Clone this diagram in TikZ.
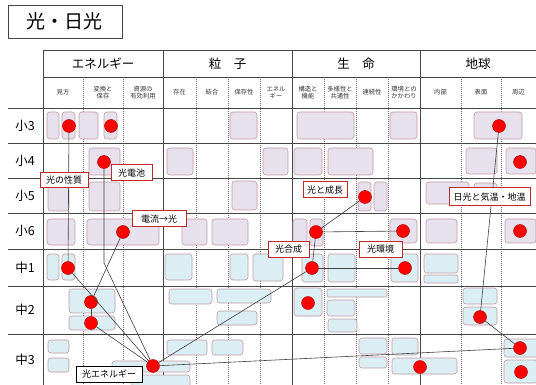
\documentclass[tikz,border=0pt]{standalone}
\usepackage{fontspec}
\newfontfamily\jp{Noto Sans CJK JP}
\definecolor{gridc}{HTML}{454545}
\definecolor{dashc}{HTML}{707070}
\definecolor{lavfill}{HTML}{E6E1ED}
\definecolor{bluefill}{HTML}{DAEEF3}
\definecolor{boxline}{HTML}{C29AA2}
\definecolor{dotred}{HTML}{FF0000}
\definecolor{dotline}{HTML}{A00000}
\definecolor{labred}{HTML}{C0282D}
\definecolor{conn}{HTML}{404040}
\tikzset{
  gridsolid/.style={draw=gridc,line width=0.7pt},
  griddash/.style={draw=dashc,line width=0.4pt,dash pattern=on 1pt off 1pt},
  ebox/.style={draw=boxline,fill=lavfill,line width=0.6pt,rounded corners=3pt},
  jbox/.style={draw=boxline,fill=bluefill,line width=0.6pt,rounded corners=3pt},
  jthin/.style={draw=boxline,fill=bluefill,line width=0.6pt,rounded corners=2pt},
  dot/.style={circle,fill=dotred,draw=dotline,line width=0.4pt,minimum size=13pt,inner sep=0pt},
  link/.style={draw=conn,line width=0.6pt},
  tag/.style={draw=labred,fill=white,line width=1pt,inner sep=0pt,font=\jp\fontsize{9}{10}\selectfont},
  rowlab/.style={font=\jp\fontsize{12.5}{13}\selectfont},
  head/.style={font=\jp\fontsize{12.5}{13}\selectfont},
  subhead/.style={font=\jp\fontsize{6.3}{7.2}\selectfont,align=center,text=black!80}
}
\begin{document}
\begin{tikzpicture}[x=1pt,y=-1pt]
\useasboundingbox (0,0) rectangle (536,385);
\fill[white] (0,0) rectangle (536,385);
% title
\node[draw=gridc,line width=0.8pt,minimum width=114pt,minimum height=33pt,inner sep=0pt,font=\jp\fontsize{19}{20}\selectfont] (title) at (65,21.5) {光・日光};
% grid
\foreach \x in {83,123,196,228,260,324,356,388,461,501} \draw[griddash] (\x,77) -- (\x,385);
\foreach \y in {108,143,178,213,249,286,334} \draw[gridsolid] (8,\y) -- (536,\y);
\draw[gridsolid] (43,50) -- (536,50);
\draw[gridsolid] (43,77) -- (536,77);
\foreach \x in {43,163,292,420} \draw[gridsolid] (\x,50) -- (\x,385);
% headers
\node[head] (hE) at (103,63.5) {エネルギー};
\node[head] (hP) at (227.5,63.5) {粒\hspace{1em}子};
\node[head] (hL) at (356,63.5) {生\hspace{1em}命};
\node[head] (hEa) at (478,63.5) {地球};
\node[subhead] (s1) at (63,92.5) {見方};
\node[subhead] (s2) at (103,92.5) {変換と\\保存};
\node[subhead] (s3) at (143,92.5) {資源の\\有効利用};
\node[subhead] (s4) at (179.5,92.5) {存在};
\node[subhead] (s5) at (212,92.5) {結合};
\node[subhead] (s6) at (244,92.5) {保存性};
\node[subhead] (s7) at (276,92.5) {エネル\\ギー};
\node[subhead] (s8) at (308,92.5) {構造と\\機能};
\node[subhead] (s9) at (340,92.5) {多様性と\\共通性};
\node[subhead] (s10) at (372,92.5) {連続性};
\node[subhead] (s11) at (404,92.5) {環境との\\かかわり};
\node[subhead] (s12) at (440.5,92.5) {内部};
\node[subhead] (s13) at (481,92.5) {表面};
\node[subhead] (s14) at (518.5,92.5) {周辺};
% row labels
\node[rowlab] (r1) at (25,125.5) {小3};
\node[rowlab] (r2) at (25,160.5) {小4};
\node[rowlab] (r3) at (25,195.5) {小5};
\node[rowlab] (r4) at (25,231) {小6};
\node[rowlab] (r5) at (25,267.5) {中1};
\node[rowlab] (r6) at (25,310) {中2};
\node[rowlab] (r7) at (25,359.5) {中3};
% boxes 小3
\draw[ebox] (47,112) rectangle (59,139);
\draw[ebox] (62,112) rectangle (75,139);
\draw[ebox] (79,112) rectangle (98,139);
\draw[ebox] (104,112) rectangle (117,139);
\draw[ebox] (230,112) rectangle (257,139);
\draw[ebox] (297,112) rectangle (354,139);
\draw[ebox] (390,112) rectangle (417,139);
\draw[ebox] (474,112) rectangle (522,139);
% 小4
\draw[ebox] (89,148) rectangle (120,175);
\draw[ebox] (167,148) rectangle (193,175);
\draw[ebox] (263,148) rectangle (288,175);
\draw[ebox] (294,148) rectangle (322,175);
\draw[ebox] (328,148) rectangle (373,175);
\draw[ebox] (466,148) rectangle (497,174);
\draw[ebox] (506,148) rectangle (536,174);
% 小5
\draw[ebox] (48,181) rectangle (69,211);
\draw[ebox] (89,182) rectangle (120,211);
\draw[ebox] (232,181) rectangle (257,210);
\draw[ebox] (358,182) rectangle (371,211);
\draw[ebox] (374,182) rectangle (387,211);
\draw[ebox] (426,182) rectangle (469,204);
\draw[ebox] (474,183) rectangle (497,204);
% 小6
\draw[ebox] (47,219) rectangle (75,245);
\draw[ebox] (87,219) rectangle (159,245);
\draw[ebox] (182,219) rectangle (207,245);
\draw[ebox] (212,219) rectangle (248,245);
\draw[ebox] (293,219) rectangle (307,246);
\draw[ebox] (310,219) rectangle (323,246);
\draw[ebox] (390,219) rectangle (417,243);
\draw[ebox] (426,219) rectangle (457,243);
\draw[ebox] (505,219) rectangle (536,243);
% 中1
\draw[jbox] (47,254) rectangle (59,280);
\draw[jbox] (62,254) rectangle (75,280);
\draw[jbox] (165,254) rectangle (192,280);
\draw[jbox] (230,254) rectangle (248,280);
\draw[jbox] (253,254) rectangle (283,281);
\draw[jbox] (302,254) rectangle (323,282);
\draw[jbox] (328,254) rectangle (355,282);
\draw[jbox] (391,254) rectangle (418,282);
\draw[jbox] (424,254) rectangle (458,273);
\draw[jthin] (424,275) rectangle (458,283);
% 中2
\draw[jbox] (69,289) rectangle (115,313);
\draw[jbox] (69,316) rectangle (115,330);
\draw[jbox] (169,289) rectangle (212,304);
\draw[jbox] (217,289) rectangle (271,303);
\draw[jbox] (217,311) rectangle (257,325);
\draw[jbox] (294,288) rectangle (322,316);
\draw[jthin] (327,289) rectangle (387,297);
\draw[jbox] (327,300) rectangle (355,316);
\draw[jbox] (328,319) rectangle (357,332);
\draw[jbox] (463,288) rectangle (497,304);
\draw[jbox] (463,307) rectangle (497,325);
% 中3
\draw[jbox] (48,340) rectangle (69,353);
\draw[jbox] (48,358) rectangle (69,372);
\draw[jbox] (112,361) rectangle (190,372);
\draw[jbox] (132,375) rectangle (190,388);
\draw[jbox] (167,340) rectangle (207,355);
\draw[jbox] (212,340) rectangle (243,355);
\draw[jbox] (359,338) rectangle (387,354);
\draw[jbox] (359,357) rectangle (387,368);
\draw[jbox] (392,338) rectangle (418,355);
\draw[jbox] (392,358) rectangle (457,374);
\draw[jbox] (504,339) rectangle (538,357);
\draw[jbox] (504,360) rectangle (538,383);
% dots
\node[dot] (a1) at (69,126) {};
\node[dot] (a2) at (111,126) {};
\node[dot] (a3) at (104,162) {};
\node[dot] (a4) at (123,232) {};
\node[dot] (a5) at (68,268) {};
\node[dot] (a6) at (91,302) {};
\node[dot] (a7) at (91,323) {};
\node[dot] (le) at (153,366) {};
\node[dot] (b1) at (365,197) {};
\node[dot] (b2) at (316,232) {};
\node[dot] (b3) at (403,231) {};
\node[dot] (b4) at (312,268) {};
\node[dot] (b5) at (405,268) {};
\node[dot] (b6) at (308,303) {};
\node[dot] (c1) at (499,126) {};
\node[dot] (c2) at (520,162) {};
\node[dot] (c3) at (520,231) {};
\node[dot] (c4) at (480,317) {};
\node[dot] (c5) at (520,348) {};
\node[dot] (c6) at (521,372) {};
\node[dot] (c7) at (420,367) {};
\coordinate (bend) at (104,263);
% connectors
\draw[link] (a1) -- (a5);
\draw[link] (a3) -- (bend) -- (le);
\draw[link] (a4) -- (a6);
\draw[link] (a6) -- (a7);
\draw[link] (a5) -- (le);
\draw[link] (a7) -- (le);
\draw[link] (b1) -- (b2);
\draw[link] (b2) -- (b3);
\draw[link] (b2) -- (b4);
\draw[link] (b4) -- (b5);
\draw[link] (b4) -- (le);
\draw[link] (le) -- (c5);
\draw[link] (c1) -- (c4);
\draw[link] (c4) -- (c5);
% labels
\node[tag,minimum width=48pt,minimum height=15pt] (t1) at (64,180.5) {光の性質};
\node[tag,minimum width=41pt,minimum height=16pt] (t2) at (131.5,173) {光電池};
\node[tag,minimum width=54pt,minimum height=16pt] (t3) at (159,219) {電流→光};
\node[tag,minimum width=44pt,minimum height=16pt] (t4) at (325,190) {光と成長};
\node[tag,minimum width=81pt,minimum height=18pt] (t5) at (489.5,197) {日光と気温・地温};
\node[tag,minimum width=41pt,minimum height=15pt] (t6) at (288.5,249.5) {光合成};
\node[tag,minimum width=43pt,minimum height=15pt] (t7) at (380.5,249.5) {光環境};
\node[tag,draw=black,line width=0.8pt,minimum width=66pt,minimum height=16pt] (t8) at (109,374) {光エネルギー};
\end{tikzpicture}
\end{document}
